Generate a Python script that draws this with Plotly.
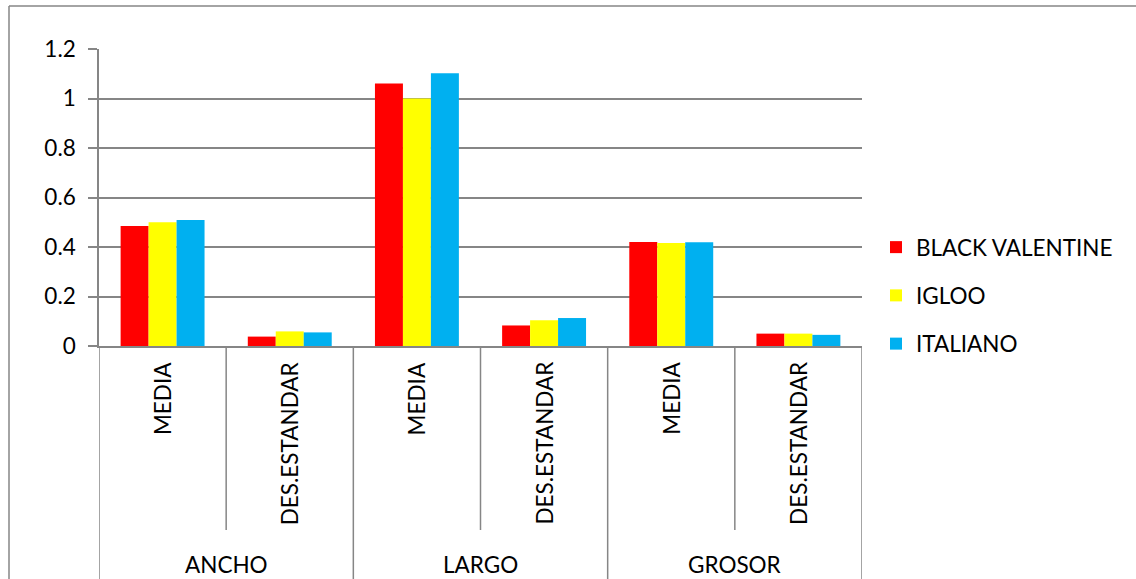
import plotly.graph_objects as go

# Data
groups = ["ANCHO", "LARGO", "GROSOR"]
stats = ["MEDIA", "DES.ESTANDAR"]
categories = [f"{g} {s}" for g in groups for s in stats]

black_valentine = [0.485, 0.038, 1.061, 0.083, 0.420, 0.050]
igloo = [0.500, 0.059, 1.000, 0.104, 0.416, 0.050]
italiano = [0.509, 0.055, 1.102, 0.113, 0.419, 0.045]

series = [
    ("BLACK VALENTINE", black_valentine, "#FF0000"),
    ("IGLOO", igloo, "#FFFF00"),
    ("ITALIANO", italiano, "#00B0F0"),
]

W, H = 1136, 579
L, R, T, B = 99, 862, 49, 346  # plot area in pixels
FONT = "Lato"
FS = 22.5
GRID = "#868686"


def px(xp):
    return (xp - L) / (R - L)


def py(yp):
    return (B - yp) / (B - T)


fig = go.Figure()
for i, (name, vals, color) in enumerate(series):
    fig.add_trace(go.Bar(
        x=categories, y=vals, name=name,
        marker=dict(color=color, line=dict(width=0)),
        legendgroup=str(i),
    ))

shapes = []
annotations = []
n = len(categories)

# two-level category table below the axis
for k in range(n + 1):
    outer = k % 2 == 0
    shapes.append(dict(
        type="line", xref="x", yref="paper",
        x0=k - 0.5, x1=k - 0.5, y0=0, y1=py(585) if outer else py(530),
        line=dict(color=GRID, width=1.5),
    ))
for k, cat in enumerate(categories):
    stat = stats[k % 2]
    annotations.append(dict(
        x=cat, xref="x", y=py(360), yref="paper",
        text=stat, textangle=-90, showarrow=False,
        xanchor="center", yanchor="top",
        font=dict(family=FONT, size=FS, color="#000000"),
    ))
for gi, g in enumerate(groups):
    annotations.append(dict(
        x=2 * gi + 0.5, xref="x", y=py(564), yref="paper",
        text=g, showarrow=False, xanchor="center", yanchor="middle",
        font=dict(family=FONT, size=FS, color="#000000"),
    ))

# chart-area border (top and left edges)
shapes.append(dict(type="line", xref="paper", yref="paper",
                   x0=px(9), x1=px(W + 5), y0=py(6), y1=py(6),
                   line=dict(color=GRID, width=1.5)))
shapes.append(dict(type="line", xref="paper", yref="paper",
                   x0=px(9), x1=px(9), y0=py(6), y1=py(H + 5),
                   line=dict(color=GRID, width=1.5)))

fig.update_layout(
    width=W, height=H,
    margin=dict(l=L, r=W - R, t=T, b=H - B),
    paper_bgcolor="white", plot_bgcolor="white",
    barmode="group", bargap=0.34, bargroupgap=0,
    font=dict(family=FONT, size=FS, color="#000000"),
    shapes=shapes, annotations=annotations,
    legend=dict(
        x=px(876), y=py(226), xanchor="left", yanchor="top",
        font=dict(family=FONT, size=FS, color="#000000"),
        tracegroupgap=16, itemwidth=30, bgcolor="rgba(0,0,0,0)",
    ),
    xaxis=dict(
        type="category", categoryorder="array", categoryarray=categories,
        showticklabels=False, ticks="", showgrid=False,
        showline=True, linecolor=GRID, linewidth=1.5,
        range=[-0.5, n - 0.5],
    ),
    yaxis=dict(
        range=[0, 1.2], dtick=0.2, tick0=0,
        showgrid=True, gridcolor=GRID, gridwidth=1.5,
        showline=True, linecolor=GRID, linewidth=1.5,
        ticks="outside", ticklen=9, tickcolor=GRID, tickwidth=1.5,
        ticklabelstandoff=8, zeroline=False,
        tickfont=dict(family=FONT, size=FS, color="#000000"),
    ),
    showlegend=True,
)

fig.write_html("out.html")
